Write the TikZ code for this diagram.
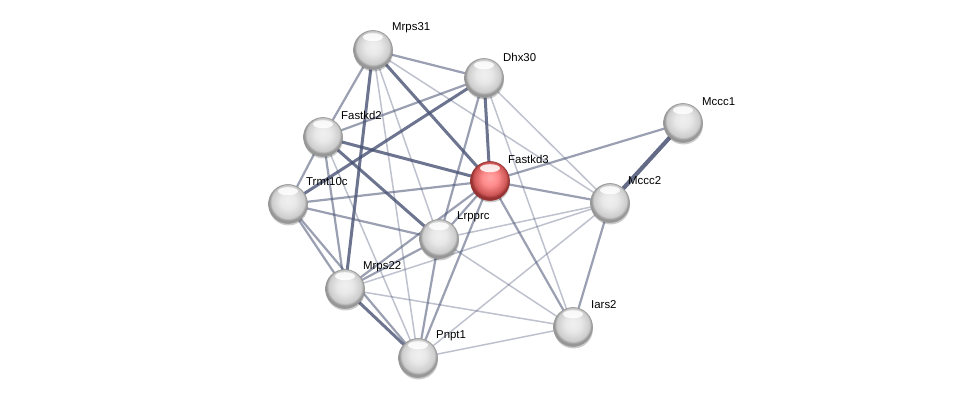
\documentclass[tikz,border=0pt]{standalone}
\usepackage{fontspec}
\setmainfont{Liberation Sans}
\usetikzlibrary{backgrounds,shadows}
\definecolor{edgec}{RGB}{72,82,115}
\definecolor{bodyg}{RGB}{205,205,205}
\definecolor{rimg}{RGB}{150,150,150}
\definecolor{bodyr}{RGB}{205,85,85}
\definecolor{rimr}{RGB}{150,50,50}
\pgfdeclareradialshading{sphereg}{\pgfpoint{0bp}{5bp}}{color(0bp)=(white!70!bodyg);color(10bp)=(white!55!bodyg);color(21bp)=(bodyg);color(24bp)=(rimg);color(50bp)=(rimg)}
\pgfdeclareradialshading{spherer}{\pgfpoint{0bp}{5bp}}{color(0bp)=(red!35!white);color(10bp)=(red!45!white);color(21bp)=(bodyr);color(24bp)=(rimr);color(50bp)=(rimr)}
\begin{document}
\begin{tikzpicture}[x=1pt,y=-1pt,
  ball/.style={circle,minimum size=39pt,inner sep=0pt,shading=sphereg,draw=gray!80,line width=0.6pt,
    drop shadow={shadow xshift=0.5pt,shadow yshift=-2pt,opacity=0.2,fill=black}},
  qball/.style={ball,shading=spherer,draw=rimr},
  lab/.style={anchor=west,inner sep=0pt,font=\fontsize{11.4}{13}\selectfont},
  ethick/.style={draw=edgec,line width=3pt,opacity=0.8},
  emed/.style={draw=edgec,line width=2.2pt,opacity=0.55},
  ethin/.style={draw=edgec,line width=1.5pt,opacity=0.35},
  ebold/.style={draw=edgec,line width=4.2pt,opacity=0.85}]
\useasboundingbox (0,0) rectangle (975,403);

\node[ball] (mrps31) at (373,50) {};
\node[ball] (dhx30) at (484,78) {};
\node[ball] (fastkd2) at (323,137) {};
\node[qball] (fastkd3) at (490,181) {};
\node[ball] (trmt10c) at (288,204) {};
\node[ball] (mccc1) at (683,123) {};
\node[ball] (mccc2) at (610,203) {};
\node[ball] (lrpprc) at (439,239) {};
\node[ball] (mrps22) at (345,289) {};
\node[ball] (iars2) at (573,327) {};
\node[ball] (pnpt1) at (418,358) {};

\foreach \n in {mrps31,dhx30,fastkd2,fastkd3,trmt10c,mccc1,mccc2,lrpprc,mrps22,iars2,pnpt1}
  \fill[white,opacity=0.85] ([yshift=-7pt]\n.north) ellipse [x radius=10pt, y radius=4pt];

\node[lab] (lmrps31) at (392,28) {Mrps31};
\node[lab] (ldhx30) at (503,57) {Dhx30};
\node[lab] (lfastkd2) at (341,115) {Fastkd2};
\node[lab] (lfastkd3) at (508,159) {Fastkd3};
\node[lab] (ltrmt10c) at (306,182) {Trmt10c};
\node[lab] (lmccc1) at (702,102) {Mccc1};
\node[lab] (lmccc2) at (628,181) {Mccc2};
\node[lab] (llrpprc) at (457,217) {Lrpprc};
\node[lab] (lmrps22) at (363,267) {Mrps22};
\node[lab] (liars2) at (591,305) {Iars2};
\node[lab] (lpnpt1) at (436,336) {Pnpt1};

\begin{scope}[on background layer]
\fill[white] (0,0) rectangle (975,403);
% thin
\draw[ethin] (mrps31.center) -- (lrpprc.center);
\draw[ethin] (mrps31.center) -- (mccc2.center);
\draw[ethin] (mrps31.center) -- (pnpt1.center);
\draw[ethin] (dhx30.center) -- (mccc2.center);
\draw[ethin] (dhx30.center) -- (iars2.center);
\draw[ethin] (fastkd2.center) -- (pnpt1.center);
\draw[ethin] (mccc2.center) -- (lrpprc.center);
\draw[ethin] (mccc2.center) -- (mrps22.center);
\draw[ethin] (mccc2.center) -- (pnpt1.center);
\draw[ethin] (lrpprc.center) -- (iars2.center);
\draw[ethin] (mrps22.center) -- (iars2.center);
\draw[ethin] (pnpt1.center) -- (iars2.center);
% medium
\draw[emed] (mrps31.center) -- (dhx30.center);
\draw[emed] (mrps31.center) -- (fastkd2.center);
\draw[emed] (dhx30.center) -- (fastkd2.center);
\draw[emed] (dhx30.center) -- (lrpprc.center);
\draw[emed] (fastkd2.center) -- (trmt10c.center);
\draw[emed] (fastkd2.center) -- (mrps22.center);
\draw[emed] (trmt10c.center) -- (fastkd3.center);
\draw[emed] (trmt10c.center) -- (lrpprc.center);
\draw[emed] (trmt10c.center) -- (mrps22.center);
\draw[emed] (trmt10c.center) -- (pnpt1.center);
\draw[emed] (fastkd3.center) -- (mccc1.center);
\draw[emed] (fastkd3.center) -- (mccc2.center);
\draw[emed] (fastkd3.center) -- (lrpprc.center);
\draw[emed] (fastkd3.center) -- (mrps22.center);
\draw[emed] (fastkd3.center) -- (pnpt1.center);
\draw[emed] (fastkd3.center) -- (iars2.center);
\draw[emed] (mccc2.center) -- (iars2.center);
\draw[emed] (lrpprc.center) -- (mrps22.center);
\draw[emed] (lrpprc.center) -- (pnpt1.center);
% thick
\draw[ethick] (mrps31.center) -- (mrps22.center);
\draw[ethick] (mrps31.center) -- (fastkd3.center);
\draw[ethick] (fastkd2.center) -- (fastkd3.center);
\draw[ethick] (fastkd2.center) -- (lrpprc.center);
\draw[ethick] (dhx30.center) -- (trmt10c.center);
\draw[ethick] (dhx30.center) -- (fastkd3.center);
\draw[ethick] (mrps22.center) -- (pnpt1.center);
\draw[ebold] (mccc1.center) -- (mccc2.center);
\end{scope}
\end{tikzpicture}
\end{document}
